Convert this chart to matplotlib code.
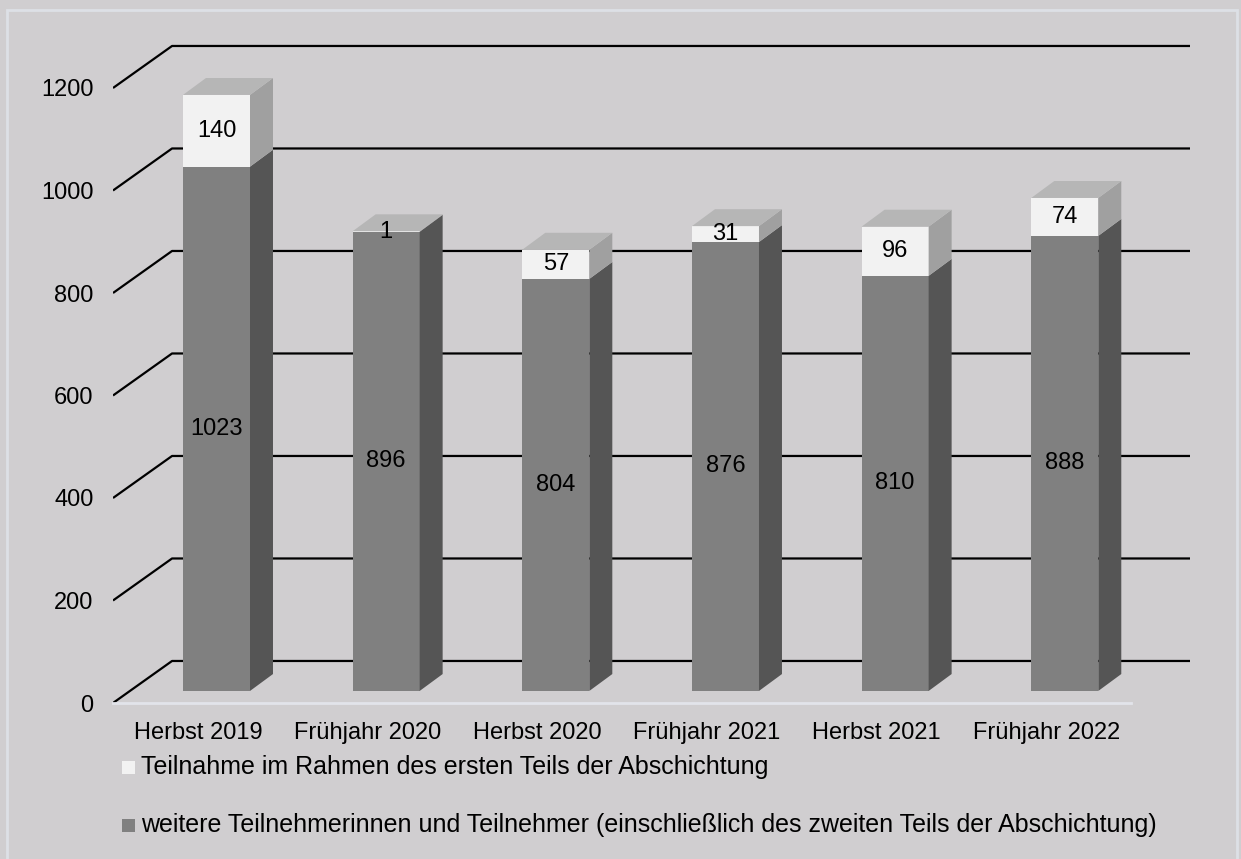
import matplotlib
matplotlib.use("Agg")
import matplotlib.pyplot as plt
from matplotlib.patches import Rectangle, Polygon

plt.rcParams['font.family'] = ['Liberation Sans', 'DejaVu Sans']

# Daten
semester = ['Herbst 2019', 'Frühjahr 2020', 'Herbst 2020', 'Frühjahr 2021', 'Herbst 2021', 'Frühjahr 2022']
weitere = [1023, 896, 804, 876, 810, 888]
erster_teil = [140, 1, 57, 31, 96, 74]
yticks = [0, 200, 400, 600, 800, 1000, 1200]
legende = ['Teilnahme im Rahmen des ersten Teils der Abschichtung',
           'weitere Teilnehmerinnen und Teilnehmer (einschließlich des zweiten Teils der Abschichtung)']

bg = '#d0ced0'
c_front_dark = '#808080'
c_side_dark = '#555555'
c_front_light = '#f2f2f2'
c_side_light = '#a0a0a0'
c_top = '#b6b6b6'
fs = 17
fs_leg = 18

W, H = 1241, 859
fig = plt.figure(figsize=(W / 100, H / 100), dpi=100)
fig.patch.set_facecolor(bg)

# Rahmen
fig.patches.append(Rectangle((7 / W, -0.01), (1237 - 7) / W, (H - 10) / H + 0.01,
                             transform=fig.transFigure, fill=False,
                             edgecolor='#dde0e6', lw=2))

# Achse: Wertskala 0.5125 px pro Einheit, Kategorie 169.7 px
px_per_val = 0.5125
ymax = 1300
left_px, right_px, base_px = 113, 1190, 703
ax = fig.add_axes([left_px / W, (H - base_px) / H, (right_px - left_px) / W,
                   ymax * px_per_val / H])
ax.set_facecolor('none')

depth_x = 0.348   # Tiefe der Rückwand in Kategorien
depth_y = 82      # Tiefe der Rückwand in Werteinheiten
n = len(semester)
ax.set_xlim(-0.5, n - 0.5 + depth_x)
ax.set_ylim(0, ymax)
for s in ax.spines.values():
    s.set_visible(False)

# Gitterlinien (Boden + Rückwand)
for v in yticks:
    ax.plot([-0.5, -0.5 + depth_x, n - 0.5 + depth_x], [v, v + depth_y, v + depth_y],
            color='black', lw=1.6, zorder=1, solid_capstyle='butt')

# Vorderkante Boden
ax.plot([-0.5, n - 0.5], [0, 0], color='#e2e4ea', lw=2, zorder=1, clip_on=False)

# Balken
bw = 0.395
off_x, off_y = 0.11, 23.5      # Lage der Balkenfront
bdx, bdy = 0.1355, 33          # Balkentiefe
for i in range(n):
    x0 = i + off_x - bw / 2
    x1 = x0 + bw
    y0 = off_y
    y1 = y0 + weitere[i]
    y2 = y1 + erster_teil[i]
    ax.add_patch(Rectangle((x0, y0), bw, weitere[i], facecolor=c_front_dark, edgecolor='none', zorder=3))
    ax.add_patch(Rectangle((x0, y1), bw, erster_teil[i], facecolor=c_front_light, edgecolor='none', zorder=3))
    ax.add_patch(Polygon([(x1, y0), (x1 + bdx, y0 + bdy), (x1 + bdx, y1 + bdy), (x1, y1)],
                         facecolor=c_side_dark, edgecolor='none', zorder=3))
    ax.add_patch(Polygon([(x1, y1), (x1 + bdx, y1 + bdy), (x1 + bdx, y2 + bdy), (x1, y2)],
                         facecolor=c_side_light, edgecolor='none', zorder=3))
    ax.add_patch(Polygon([(x0, y2), (x1, y2), (x1 + bdx, y2 + bdy), (x0 + bdx, y2 + bdy)],
                         facecolor=c_top, edgecolor='none', zorder=3))
    ax.text(i + off_x, y0 + weitere[i] / 2, str(weitere[i]), ha='center', va='center',
            fontsize=fs, zorder=5)
    ax.text(i + off_x, (y1 + y2) / 2, str(erster_teil[i]), ha='center', va='center',
            fontsize=fs, zorder=5)

ax.set_yticks(yticks)
ax.set_yticklabels([str(v) for v in yticks], fontsize=fs)
ax.set_xticks(range(n))
ax.set_xticklabels(semester, fontsize=fs)
ax.tick_params(axis='both', length=0)
ax.tick_params(axis='y', pad=14)
ax.tick_params(axis='x', pad=14)

# Legende
legend_colors = [c_front_light, c_front_dark]
legend_y = [767, 825]
for lab, col, yy in zip(legende, legend_colors, legend_y):
    fig.patches.append(Rectangle((122 / W, (H - yy - 6.5) / H), 13 / W, 13 / H,
                                 transform=fig.transFigure, facecolor=col, edgecolor='none'))
    fig.text(141 / W, (H - yy) / H, lab, fontsize=fs_leg, va='center', ha='left')

fig.savefig('out.png', dpi=100, facecolor=bg)
